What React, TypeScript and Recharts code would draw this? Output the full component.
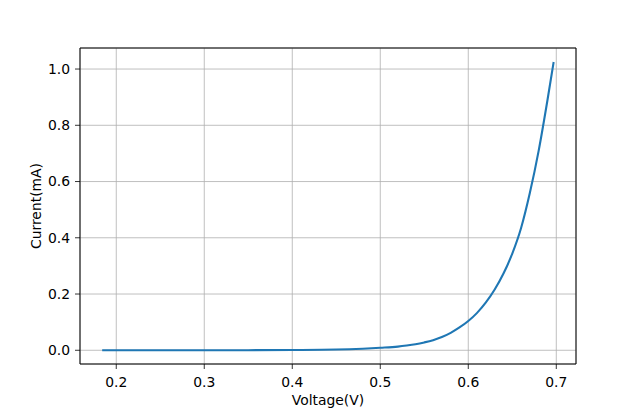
import React from 'react';
import { LineChart, Line, XAxis, YAxis, CartesianGrid, ReferenceLine } from 'recharts';

// Voltage (V) readings along the curve
const voltage = [
  0.184, 0.25, 0.3, 0.35, 0.4, 0.45, 0.48, 0.5, 0.52, 0.53, 0.54, 0.55, 0.56, 0.57, 0.58, 0.59,
  0.6, 0.61, 0.62, 0.63, 0.64, 0.65, 0.66, 0.67, 0.68, 0.69, 0.697,
];
// Current (mA)
const current = [
  0, 0, 0.0001, 0.0003, 0.001, 0.0025, 0.0055, 0.0088, 0.013, 0.0168, 0.0215, 0.028, 0.036, 0.047, 0.062, 0.081,
  0.104, 0.133, 0.17, 0.216, 0.273, 0.344, 0.435, 0.56, 0.71, 0.89, 1.025,
];

const xTicks = [0.2, 0.3, 0.4, 0.5, 0.6, 0.7];
const yTicks = [0, 0.2, 0.4, 0.6, 0.8, 1.0];

const X_MIN = 0.1588;
const X_MAX = 0.7224;
const Y_MIN = -0.0488;
const Y_MAX = 1.0748;

const data = voltage.map((v, i) => ({ v, i: current[i] }));

const FONT = 'DejaVu Sans';
const tickStyle = { fontSize: 13.9, fill: '#000', fontFamily: FONT };

const App = () => {
  return (
    <div style={{ position: 'absolute', left: 0, top: 0, width: 640, height: 409, background: '#fff' }}>
      <LineChart width={640} height={409} data={data} margin={{ top: 48, right: 64, left: 0, bottom: 0 }}>
        <CartesianGrid stroke="#b0b0b0" strokeWidth={0.8} />
        <XAxis
          dataKey="v"
          type="number"
          domain={[X_MIN, X_MAX]}
          ticks={xTicks}
          allowDataOverflow
          tickFormatter={(t: number) => t.toFixed(1)}
          height={45}
          tick={tickStyle}
          tickSize={5}
          tickMargin={8}
          stroke="#000"
          axisLine={{ stroke: '#000', strokeWidth: 1 }}
          tickLine={{ stroke: '#000', strokeWidth: 0.8 }}
          label={{
            content: (props: any) => {
              const vb = props.viewBox;
              return (
                <text x={vb.x + vb.width / 2} y={405} textAnchor="middle" fontSize={13.9} fontFamily={FONT} fill="#000">
                  Voltage(V)
                </text>
              );
            },
          }}
        />
        <YAxis
          type="number"
          domain={[Y_MIN, Y_MAX]}
          ticks={yTicks}
          allowDataOverflow
          tickFormatter={(t: number) => t.toFixed(1)}
          width={80}
          tick={tickStyle}
          tickSize={5}
          tickMargin={5}
          stroke="#000"
          axisLine={{ stroke: '#000', strokeWidth: 1 }}
          tickLine={{ stroke: '#000', strokeWidth: 0.8 }}
          label={{
            content: (props: any) => {
              const vb = props.viewBox;
              const cx = 41;
              const cy = vb.y + vb.height / 2;
              return (
                <text
                  x={cx}
                  y={cy}
                  textAnchor="middle"
                  fontSize={13.9}
                  fontFamily={FONT}
                  fill="#000"
                  transform={`rotate(-90 ${cx} ${cy})`}
                >
                  Current(mA)
                </text>
              );
            },
          }}
        />
        <ReferenceLine x={X_MAX} stroke="#000" strokeWidth={1} ifOverflow="visible" />
        <ReferenceLine y={Y_MAX} stroke="#000" strokeWidth={1} ifOverflow="visible" />
        <Line
          type="monotone"
          dataKey="i"
          stroke="#1f77b4"
          strokeWidth={2.1}
          dot={false}
          isAnimationActive={false}
        />
      </LineChart>
    </div>
  );
};

export default App;
